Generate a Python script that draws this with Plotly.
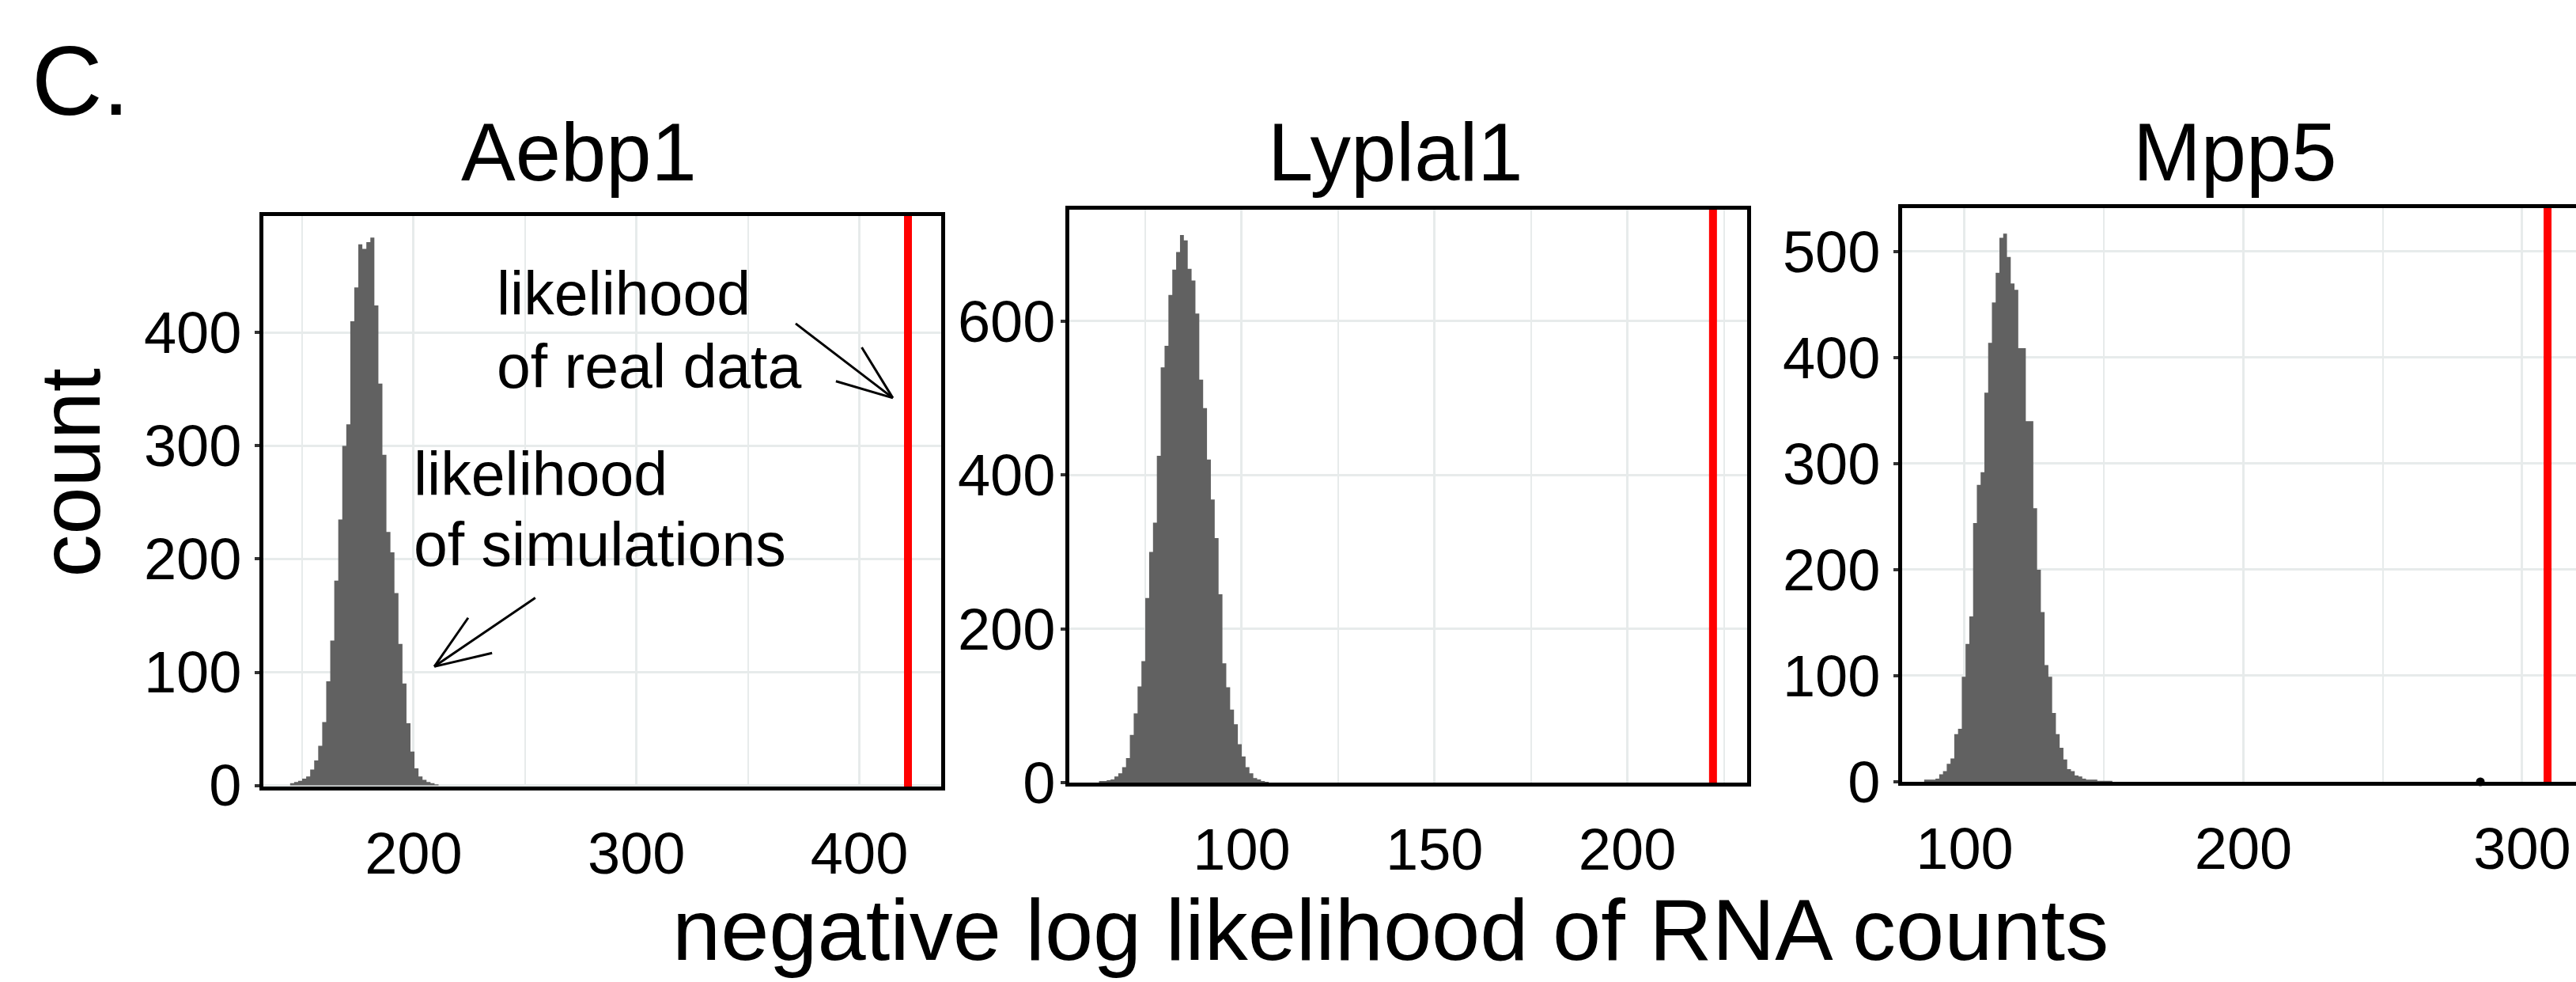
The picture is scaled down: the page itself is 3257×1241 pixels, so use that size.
import math
import plotly.graph_objects as go

W, H = 3257, 1241
FONT = "Liberation Sans, Arial, Helvetica, sans-serif"

# ---------------- data ----------------
genes = ["Aebp1", "Lyplal1", "Mpp5"]

# simulated negative log likelihoods, binned: left edge of first bin, bin width, counts
aebp1_bin_start = 144.6
aebp1_bin_width = 1.8
aebp1_counts = [2, 3, 4, 6, 8, 14, 22, 35, 56, 92, 128, 181, 235, 300, 319, 410, 440,
                478, 474, 480, 484, 424, 355, 292, 224, 206, 170, 125, 90, 55, 30, 15,
                8, 5, 3, 2, 1]

lyplal1_bin_start = 63.0
lyplal1_bin_width = 1.0
lyplal1_counts = [2, 2, 3, 4, 8, 12, 20, 32, 62, 90, 125, 158, 240, 300, 338, 425, 540,
                  568, 634, 667, 690, 712, 705, 668, 653, 610, 524, 487, 420, 368, 318,
                  245, 155, 124, 95, 76, 50, 34, 20, 12, 6, 4, 2, 1]

mpp5_bin_start = 85.5
mpp5_bin_width = 1.35
mpp5_counts = [2, 2, 2, 3, 7, 10, 17, 22, 45, 50, 99, 130, 156, 244, 280, 292, 367, 414,
               452, 480, 513, 517, 495, 470, 464, 409, 409, 340, 340, 258, 200, 160, 110,
               99, 65, 45, 32, 21, 12, 10, 6, 5, 3, 2, 2, 2, 1, 1, 1, 1]

# negative log likelihood of the real data (red lines)
real_nll = [421.8, 222.2, 309.1]

# isolated far-tail simulation in Mpp5
mpp5_outlier_x = [285.0]
mpp5_outlier_y = [0]

# axes
x_ticks = [[200, 300, 400], [100, 150, 200], [100, 200, 300]]
x_minor = [[150, 250, 350], [75, 125, 175, 225], [150, 250]]
y_ticks = [[0, 100, 200, 300, 400], [0, 200, 400, 600], [0, 100, 200, 300, 400, 500]]
x_ranges = [[132.6, 436.7], [55.3, 231.05], [77.6, 319.3]]
y_ranges = [[-1, 503], [0, 745], [0, 541]]

# annotation arrows (panel 1, data coords): head x, head y, tail x, tail y
arrow_real = [415.0, 342.3, 371.4, 408.0]
arrow_sim = [209.3, 105.0, 254.6, 165.7]

# ---------------- layout geometry (pixels) ----------------
panels_px = [(333, 1190, 273, 994), (1352, 2209, 265, 989), (2405, 3257, 263, 988)]
ylab_standoff = [2, -8, 2]

HIST = "#616161"
GRID = "#e7ebeb"


def px_x(px):
    return px / W


def px_y(py):
    return 1 - py / H


fig = go.Figure()

hists = [
    (aebp1_bin_start, aebp1_bin_width, aebp1_counts),
    (lyplal1_bin_start, lyplal1_bin_width, lyplal1_counts),
    (mpp5_bin_start, mpp5_bin_width, mpp5_counts),
]

layout_axes = {}
shapes = []
for i, (start, bw, counts) in enumerate(hists):
    n = "" if i == 0 else str(i + 1)
    edges = [start + k * bw for k in range(len(counts) + 1)]
    fig.add_trace(go.Scatter(
        x=edges, y=list(counts) + [counts[-1]], mode="lines",
        line=dict(shape="hv", width=0, color=HIST), fill="tozeroy", fillcolor=HIST,
        xaxis="x" + n, yaxis="y" + n, showlegend=False, hoverinfo="skip",
    ))
    l, r, t, b = panels_px[i]
    layout_axes["xaxis" + n] = dict(
        domain=[px_x(l), min(1.0, px_x(r))], range=x_ranges[i], anchor="y" + n,
        tickmode="array", tickvals=x_ticks[i], ticks="",
        showgrid=True, gridcolor=GRID, gridwidth=2.5,
        minor=dict(showgrid=True, tickmode="array", tickvals=x_minor[i],
                   gridcolor=GRID, gridwidth=2, ticks=""),
        showline=True, mirror=True, linecolor="black", linewidth=4.5,
        zeroline=False, tickfont=dict(family=FONT, size=74, color="black"),
        ticklabelstandoff=16, automargin=False, fixedrange=True,
    )
    layout_axes["yaxis" + n] = dict(
        domain=[px_y(b), px_y(t)], range=y_ranges[i], anchor="x" + n,
        tickmode="array", tickvals=y_ticks[i], ticks="outside", ticklen=6,
        tickwidth=4, tickcolor="#333333",
        showgrid=True, gridcolor=GRID, gridwidth=2.5,
        showline=True, mirror=(i < 2), linecolor="black", linewidth=4.5,
        zeroline=False, tickfont=dict(family=FONT, size=74, color="black"),
        ticklabelstandoff=ylab_standoff[i], automargin=False, fixedrange=True,
    )
    shapes.append(dict(
        type="line", xref="x" + n, yref="y" + n + " domain",
        x0=real_nll[i], x1=real_nll[i], y0=0, y1=1,
        line=dict(color="#ff0000", width=10), layer="above",
    ))

fig.add_trace(go.Scatter(
    x=mpp5_outlier_x, y=mpp5_outlier_y, mode="markers",
    marker=dict(color="black", size=11), xaxis="x3", yaxis="y3",
    cliponaxis=False, showlegend=False, hoverinfo="skip",
))

# ---- arrows (panel 1) drawn as open "V" heads, computed in pixel space ----
l1, r1, t1, b1 = panels_px[0]
xr, yr = x_ranges[0], y_ranges[0]
sx = (r1 - l1) / (xr[1] - xr[0])
sy = (b1 - t1) / (yr[1] - yr[0])


def d2p(x, y):
    return l1 + (x - xr[0]) * sx, b1 - (y - yr[0]) * sy


def p2d(px, py):
    return xr[0] + (px - l1) / sx, yr[0] + (b1 - py) / sy


def seg(x0, y0, x1, y1):
    shapes.append(dict(type="line", xref="x", yref="y", x0=x0, y0=y0, x1=x1, y1=y1,
                       line=dict(color="black", width=3), layer="above"))


for hx, hy, tx, ty in (arrow_real, arrow_sim):
    seg(tx, ty, hx, hy)
    hpx, hpy = d2p(hx, hy)
    tpx, tpy = d2p(tx, ty)
    ang = math.atan2(tpy - hpy, tpx - hpx)
    for da in (math.radians(21), -math.radians(21)):
        bpx = hpx + 75 * math.cos(ang + da)
        bpy = hpy + 75 * math.sin(ang + da)
        bx, by = p2d(bpx, bpy)
        seg(hx, hy, bx, by)

annotations = []


def text_ann(s, x_px, baseline_px, size, xanchor="left", angle=0, y_mid=None):
    y_c = y_mid if y_mid is not None else baseline_px - 0.3465 * size
    annotations.append(dict(
        text=s, xref="paper", yref="paper", x=px_x(x_px), y=px_y(y_c),
        xanchor=xanchor, yanchor="middle", showarrow=False, textangle=angle,
        font=dict(family=FONT, size=size, color="black"),
    ))


text_ann("C.", 38, 144.5, 124)
title_cx = [732, 1765, 2826]
for g, cx in zip(genes, title_cx):
    text_ann(g, cx, 228, 103, xanchor="center")
text_ann("count", 88.5, None, 108, xanchor="center", angle=-90, y_mid=598)
text_ann("negative log likelihood of RNA counts", 1758, 1213, 110, xanchor="center")

text_ann("likelihood", 626, 398, 77)
text_ann("of real data", 626, 490, 77)
text_ann("likelihood", 521, 626, 77)
text_ann("of simulations", 521, 715, 77)

fig.update_layout(
    width=W, height=H, autosize=False, margin=dict(l=0, r=0, t=0, b=0, pad=0),
    paper_bgcolor="white", plot_bgcolor="white",
    showlegend=False, shapes=shapes, annotations=annotations,
    font=dict(family=FONT, color="black"),
    **layout_axes,
)

fig.write_html("out.html", config={"responsive": False})
